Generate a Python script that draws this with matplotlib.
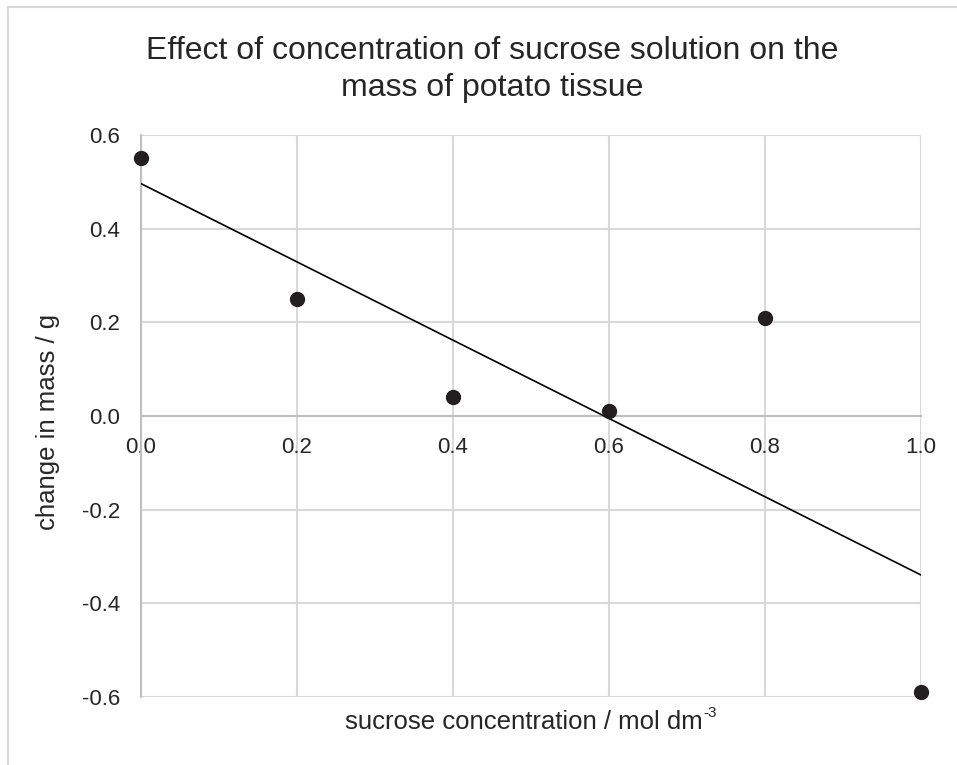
import numpy as np
import matplotlib.pyplot as plt
from matplotlib.patches import Rectangle

plt.rcParams['font.family'] = ['Liberation Sans', 'DejaVu Sans']

# data
concentration = [0.0, 0.2, 0.4, 0.6, 0.8, 1.0]
mass_change = [0.55, 0.25, 0.04, 0.01, 0.21, -0.59]
x_ticks = [0.0, 0.2, 0.4, 0.6, 0.8, 1.0]
y_ticks = [-0.6, -0.4, -0.2, 0.0, 0.2, 0.4, 0.6]

fig = plt.figure(figsize=(9.57, 7.65), dpi=100)
ax = fig.add_axes([141/957, 1-697/765, 780/957, 562/765])

# outer chart border (cropped at right/bottom)
fig.patches.append(Rectangle((8/957, -0.1), 1.2, 1 - 7/765 + 0.1, transform=fig.transFigure,
                             fill=False, edgecolor='#d9d9d9', linewidth=1.5))

ax.set_xlim(0, 1.0)
ax.set_ylim(-0.6, 0.6)
ax.set_xticks(x_ticks)
ax.set_yticks(y_ticks)
ax.set_xticklabels([f'{v:.1f}' for v in x_ticks])
ax.set_yticklabels([f'{v:.1f}' for v in y_ticks])
ax.grid(True, color='#d9d9d9', linewidth=1.5)
ax.set_axisbelow(True)

for s in ['top', 'right']:
    ax.spines[s].set_visible(False)
ax.spines['bottom'].set_position(('data', 0))
ax.spines['bottom'].set_color('#bfbfbf')
ax.spines['bottom'].set_linewidth(1.5)
ax.spines['left'].set_color('#bfbfbf')
ax.spines['left'].set_linewidth(1.5)
ax.tick_params(length=0, labelsize=16, colors='#262626')
ax.tick_params(axis='x', pad=15)
ax.tick_params(axis='y', pad=15)

# linear trendline
m, c = np.polyfit(concentration, mass_change, 1)
xs = np.array([0.0, 1.0])
ax.plot(xs, m * xs + c, color='black', linewidth=1.2, zorder=3)

ax.plot(concentration, mass_change, 'o', color='#231f20', markersize=10, zorder=4, clip_on=False)

fig.text(0.514, 1 - 51/765, 'Effect of concentration of sucrose solution on the',
         ha='center', va='center', fontsize=23, color='#262626')
fig.text(0.514, 1 - 88/765, 'mass of potato tissue',
         ha='center', va='center', fontsize=23, color='#262626')

xl = fig.text(524/957, 1 - 722/765, 'sucrose concentration / mol dm',
              ha='center', va='center', fontsize=18.5, color='#262626')
ax.annotate('-3', xy=(1, 0.58), xycoords=xl, xytext=(0.5, 0), textcoords='offset points',
            ha='left', va='bottom', fontsize=11, color='#262626')
fig.text(48/957, 1 - 422/765, 'change in mass / g', rotation=90,
         ha='center', va='center', fontsize=18.5, color='#262626')

fig.savefig('out.png', dpi=100)
